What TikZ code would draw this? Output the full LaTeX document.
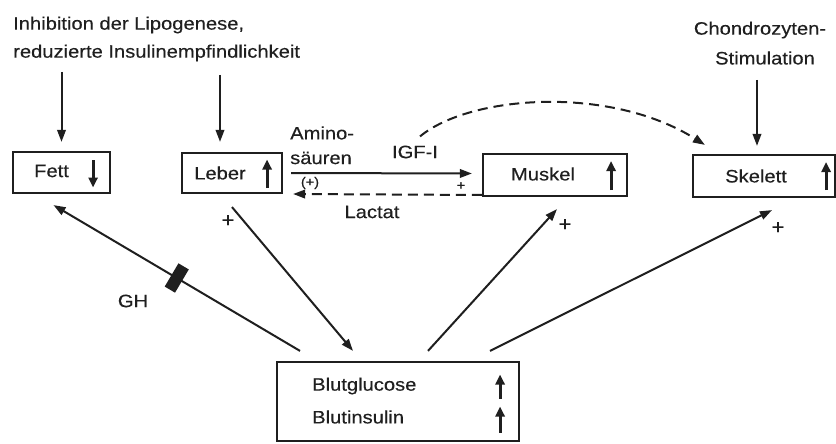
\documentclass[tikz,border=0pt]{standalone}
\usepackage{fontspec}
\setmainfont{Liberation Sans}[FakeStretch=1.12,FakeBold=0.35]
\usetikzlibrary{arrows.meta}
\definecolor{ink}{gray}{0.12}
\begin{document}
\begin{tikzpicture}[x=1pt,y=-1pt,
  box/.style={draw=ink, line width=2.2pt, inner sep=0pt},
  lbl/.style={font=\fontsize{18}{20}\selectfont, text=ink, inner sep=0pt},
  pl/.style={font=\fontsize{20}{22}\selectfont, text=ink, inner sep=0pt},
  tinypl/.style={font=\fontsize{13}{14}\selectfont, text=ink, inner sep=0pt},
  conn/.style={draw=ink, line width=2pt, -{Triangle[length=12pt,width=8.5pt]}},
  dconn/.style={conn, dash pattern=on 10pt off 6pt},
  inarrow/.style={draw=ink, line width=2.8pt, -{Triangle[length=10pt,width=9pt]}}
]
\useasboundingbox (0,0) rectangle (836,444);

% boxes
\node[box, minimum width=97pt, minimum height=41pt] (fett) at (61.5,172.5) {};
\node[box, minimum width=100pt, minimum height=40pt] (leber) at (232,173) {};
\node[box, minimum width=144pt, minimum height=42pt] (muskel) at (555,175) {};
\node[box, minimum width=142pt, minimum height=42pt] (skelett) at (764,176) {};
\node[box, minimum width=242pt, minimum height=79pt] (blut) at (398,401.5) {};

% box texts
\node[lbl] (tfett) at (51.5,171) {Fett};
\node[lbl] (tleber) at (220,173) {Leber};
\node[lbl] (tmuskel) at (543,174) {Muskel};
\node[lbl] (tskelett) at (756,176) {Skelett};
\node[lbl, anchor=west] (tglu) at (312,386) {Blutglucose};
\node[lbl, anchor=west] (tins) at (312,417) {Blutinsulin};

% in-box arrows
\draw[inarrow] ([xshift=-18pt,yshift=12.5pt]fett.east) -- ([xshift=-18pt,yshift=-15pt]fett.east);
\draw[inarrow] ([xshift=-16pt,yshift=-15pt]leber.east) -- ([xshift=-16pt,yshift=13.5pt]leber.east);
\draw[inarrow] ([xshift=-17pt,yshift=-15pt]muskel.east) -- ([xshift=-17pt,yshift=14pt]muskel.east);
\draw[inarrow] ([xshift=-10pt,yshift=-14pt]skelett.east) -- ([xshift=-10pt,yshift=14pt]skelett.east);
\draw[inarrow] ([xshift=-20pt,yshift=3pt]blut.east) -- ([xshift=-20pt,yshift=27pt]blut.east);
\draw[inarrow] ([xshift=-20pt,yshift=-31pt]blut.east) -- ([xshift=-20pt,yshift=-5pt]blut.east);

% top labels
\node[lbl, anchor=west] (inh1) at (13,25) {Inhibition der Lipogenese,};
\node[lbl, anchor=west] (inh2) at (13,53) {reduzierte Insulinempfindlichkeit};
\node[lbl] (ch1) at (760,30) {Chondrozyten-};
\node[lbl] (ch2) at (765,58) {Stimulation};

% top arrows
\coordinate (fa) at (61.5,72);
\coordinate (la) at (220,75);
\coordinate (sa) at (757,80);
\draw[conn, shorten >=9pt] (fa) -- (fa |- fett.north);
\draw[conn, shorten >=10pt] (la) -- (la |- leber.north);
\draw[conn, shorten >=8pt] (sa) -- (sa |- skelett.north);

% Leber - Muskel exchange
\node[lbl, anchor=west] (am1) at (290,133) {Amino-};
\node[lbl, anchor=west] (am2) at (290,158) {säuren};
\node[lbl] (igf) at (415,152) {IGF-I};
\node[lbl] (lactat) at (372,212) {Lactat};
\node[tinypl] (pam) at (461,186) {+};
\node[tinypl] (plac) at (310,183) {(+)};
\draw[conn] ([xshift=8pt]leber.east) -- ([xshift=-10pt,yshift=1.5pt]muskel.west);
\draw[dconn] ([yshift=-20pt]muskel.west) -- ([xshift=10pt,yshift=-21pt]leber.east);

% IGF-I dashed arc
\draw[dconn] ([xshift=5pt,yshift=9pt]igf.north) .. controls (470,95) and (610,85) .. ([xshift=13pt,yshift=9pt]skelett.north west);

% connectors from / to Blut
\draw[conn] ([xshift=-98pt,yshift=10pt]blut.north) --
  node[pos=0.5, sloped, fill=ink, minimum width=12pt, minimum height=27pt, inner sep=0pt] (ghbar) {}
  ([xshift=-8pt,yshift=-11pt]fett.south);
\node[lbl] (gh) at (133,301) {GH};
\draw[conn] ([yshift=-13pt]leber.south) -- ([xshift=-45pt,yshift=10pt]blut.north);
\node[pl] (p1) at (228,221) {+};
\draw[conn] ([xshift=30pt,yshift=10pt]blut.north) -- ([xshift=2pt,yshift=-12pt]muskel.south);
\node[pl] (p2) at (565,225) {+};
\draw[conn] ([xshift=92pt,yshift=10pt]blut.north) -- ([xshift=8pt,yshift=-12pt]skelett.south);
\node[pl] (p3) at (778,228) {+};
\end{tikzpicture}
\end{document}
